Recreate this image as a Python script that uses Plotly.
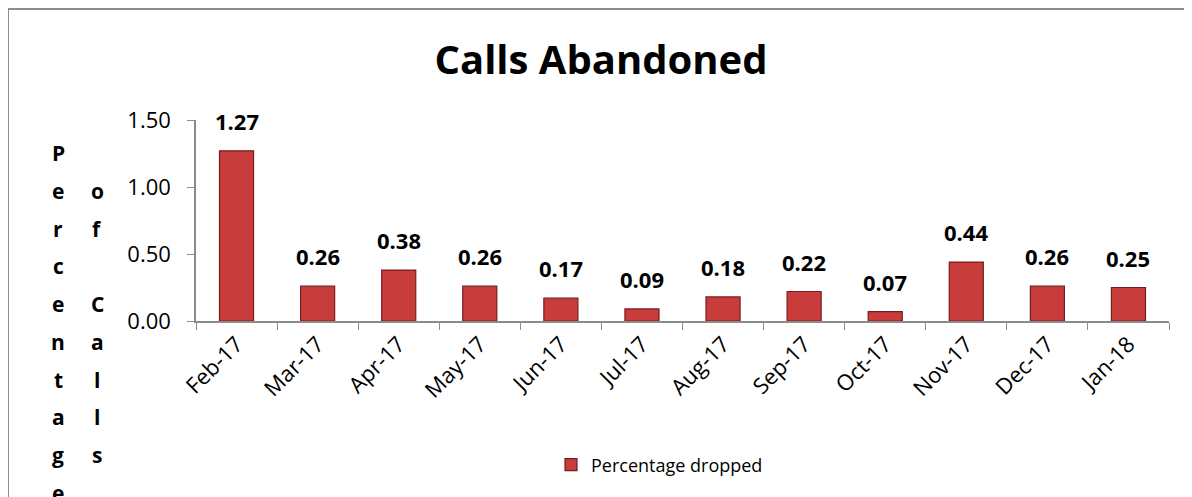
import plotly.graph_objects as go

months = ["Feb-17", "Mar-17", "Apr-17", "May-17", "Jun-17", "Jul-17",
          "Aug-17", "Sep-17", "Oct-17", "Nov-17", "Dec-17", "Jan-18"]
dropped = [1.27, 0.26, 0.38, 0.26, 0.17, 0.09, 0.18, 0.22, 0.07, 0.44, 0.26, 0.25]
yticks = [0, 0.5, 1.0, 1.5]

# the page puts the figure 8px in from the top-left corner (body margin)
OFF = 8
W, H = 1192 - OFF, 497 - OFF
L, T = 196 - OFF, 120 - OFF
R, B = W - (1169 - OFF), H - (321 - OFF)
pw, ph = W - L - R, H - T - B
FONT = "Open Sans, Carlito, Calibri, sans-serif"


def px(x):
    return (x - OFF - L) / pw


def py(y):
    return (T + ph - (y - OFF)) / ph


fig = go.Figure()
fig.add_trace(go.Bar(
    x=months, y=dropped, name="Percentage dropped", width=0.42,
    marker=dict(color="#C83C3C", line=dict(color="#761E1E", width=1.2)),
))

# value labels above bars
for m, v in zip(months, dropped):
    fig.add_annotation(x=m, y=v, text="<b>%.2f</b>" % v, showarrow=False,
                       yanchor="bottom", yshift=13,
                       font=dict(family=FONT, size=22, color="black"))

# stacked letters of the y axis title
col1 = "Percentage"
col2 = " of Calls"
step = 37.75
for xcol, word in ((58, col1), (97, col2)):
    for i, ch in enumerate(word):
        if ch == " ":
            continue
        fig.add_annotation(xref="paper", yref="paper", x=px(xcol), y=py(153 + i * step),
                           text="<b>%s</b>" % ch, showarrow=False,
                           xanchor="center", yanchor="middle",
                           font=dict(family=FONT, size=21, color="black"))

# outer frame (left and top edges visible)
fig.add_shape(type="line", xref="paper", yref="paper",
              x0=px(OFF), x1=px(1192), y0=py(OFF + 1), y1=py(OFF + 1),
              line=dict(color="#8C8C8C", width=2))
fig.add_shape(type="line", xref="paper", yref="paper",
              x0=px(OFF), x1=px(OFF), y0=py(OFF + 1), y1=py(497),
              line=dict(color="#8C8C8C", width=2))

fig.update_layout(
    width=W, height=H,
    margin=dict(l=L, r=R, t=T, b=B, autoexpand=False),
    plot_bgcolor="white", paper_bgcolor="white",
    title=dict(text="<b>Calls Abandoned</b>", x=(601 - OFF) / W, xanchor="center",
               y=1 - (60 - OFF) / H, yanchor="middle",
               font=dict(family=FONT, size=40, color="black")),
    font=dict(family=FONT, color="black"),
    showlegend=True,
    legend=dict(orientation="h", x=px(551), xanchor="left",
                y=py(465), yanchor="middle",
                font=dict(family=FONT, size=18, color="black")),
)
fig.update_xaxes(
    type="category", tickangle=-45, tickson="boundaries",
    ticks="outside", ticklen=7, tickcolor="#8C8C8C",
    showline=True, linecolor="#8C8C8C", linewidth=1.5,
    tickfont=dict(family=FONT, size=22, color="black"),
    showgrid=False, automargin=False,
)
fig.update_yaxes(
    range=[0, 1.5], tickvals=yticks, tickformat=".2f",
    ticks="outside", ticklen=7, tickcolor="#8C8C8C",
    ticklabelstandoff=12,
    showline=True, linecolor="#8C8C8C", linewidth=1.5,
    tickfont=dict(family=FONT, size=22, color="black"),
    showgrid=False, zeroline=False, automargin=False,
)

fig.write_html("out.html", config={"displayModeBar": False},
               post_script="document.body.style.overflow = 'hidden';"
                           "document.documentElement.style.overflow = 'hidden';")
